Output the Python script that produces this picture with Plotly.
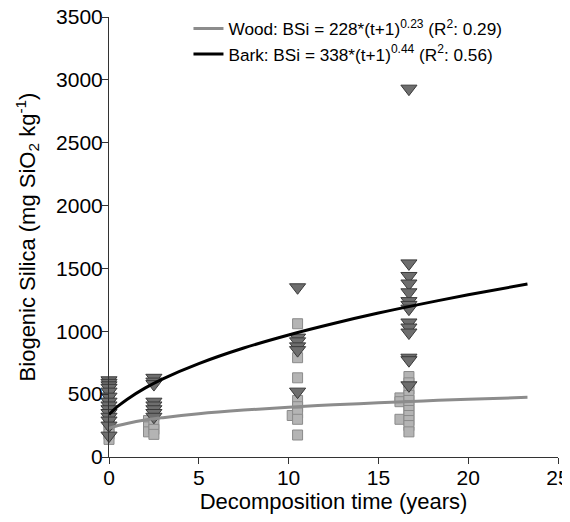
import plotly.graph_objects as go

# measured biogenic silica (mg SiO2 / kg) against decomposition time (years)
wood_t = [0, 0, 0, 0, 0, 0, 0, 0, 0,
          2.2, 2.2, 2.2, 2.5, 2.5, 2.5, 2.5,
          10.2, 10.5, 10.5, 10.5, 10.5, 10.5, 10.5, 10.5, 10.5,
          16.2, 16.2, 16.2,
          16.7, 16.7, 16.7, 16.7, 16.7, 16.7, 16.7, 16.7, 16.7, 16.7, 16.7]
wood_bsi = [580, 540, 500, 460, 300, 260, 220, 180, 140,
            290, 240, 200, 330, 260, 220, 180,
            330, 1060, 790, 630, 450, 400, 350, 300, 175,
            470, 440, 300,
            640, 590, 540, 490, 450, 410, 370, 330, 290, 250, 200]

bark_t = [0, 0, 0, 0, 0, 0, 0, 0, 0, 0, 0, 0, 0, 0,
          2.5, 2.5, 2.5, 2.5, 2.5, 2.5, 2.5, 2.5,
          10.5, 10.5, 10.5, 10.5, 10.5, 10.5,
          16.7, 16.7, 16.7, 16.7, 16.7, 16.7, 16.7, 16.7, 16.7, 16.7, 16.7, 16.7, 16.7, 16.7]
bark_bsi = [610, 590, 570, 550, 520, 480, 440, 410, 380, 350, 320, 290, 250, 170,
            630, 600, 580, 440, 410, 380, 350, 320,
            1350, 950, 920, 880, 850, 520,
            2930, 1540, 1440, 1380, 1310, 1240, 1210, 1180, 1070, 1030, 990, 790, 770, 570]

# fitted curves
fit_t = [0, 0.25, 0.5, 1, 2, 3, 5, 7.5, 10, 12.5, 15, 17.5, 20, 23.3]
wood_fit = [228, 240, 250, 267, 294, 313, 344, 373, 396, 415, 431, 446, 459, 475]
bark_fit = [338, 373, 404, 458, 548, 622, 743, 867, 971, 1062, 1145, 1220, 1290, 1376]

font = "Liberation Sans, Arial, sans-serif"

fig = go.Figure()
fig.add_trace(go.Scatter(x=wood_t, y=wood_bsi, mode='markers', showlegend=False, cliponaxis=False,
                         marker=dict(symbol='square', size=10, color='#b4b4b4',
                                     line=dict(color='#8a8a8a', width=1))))
fig.add_trace(go.Scatter(x=bark_t, y=bark_bsi, mode='markers', showlegend=False, cliponaxis=False,
                         marker=dict(symbol='triangle-down', size=14, color='#6e6e6e',
                                     line=dict(color='#3a3a3a', width=1))))
fig.add_trace(go.Scatter(x=fit_t, y=wood_fit, mode='lines', line_shape='spline',
                         line=dict(color='#8c8c8c', width=3),
                         name='Wood: BSi = 228*(t+1)<sup>0.23</sup> (R<sup>2</sup>: 0.29)'))
fig.add_trace(go.Scatter(x=fit_t, y=bark_fit, mode='lines', line_shape='spline',
                         line=dict(color='black', width=3),
                         name='Bark: BSi = 338*(t+1)<sup>0.44</sup> (R<sup>2</sup>: 0.56)'))

axis_common = dict(showgrid=False, zeroline=False, showline=True, linecolor='#333333', linewidth=1,
                   ticks='outside', tickcolor='#333333', ticklen=6, automargin=False,
                   ticklabeloverflow='allow',
                   tickfont=dict(size=21, color='black'),
                   title_font=dict(size=22, color='black'))

# the page body adds an 8px offset, so the figure is sized and margined for that
fig.update_layout(
    width=562, height=506,
    margin=dict(l=101, r=12, t=9, b=57, autoexpand=False),
    plot_bgcolor='white', paper_bgcolor='white',
    font=dict(family=font, color='black'),
    xaxis=dict(range=[0, 25], dtick=5, ticklabelstandoff=-4,
               title=dict(text='Decomposition time (years)', standoff=2), **axis_common),
    yaxis=dict(range=[0, 3500], dtick=500, ticklabelstandoff=-5,
               title=dict(text='Biogenic Silica (mg SiO<sub>2</sub> kg<sup>-1</sup>)', standoff=14), **axis_common),
    legend=dict(x=0.177, y=1.014, yanchor='top', xanchor='left',
                font=dict(size=17.2, color='black'),
                bgcolor='rgba(0,0,0,0)', tracegroupgap=0, itemwidth=30),
)

fig.write_html("out.html")
